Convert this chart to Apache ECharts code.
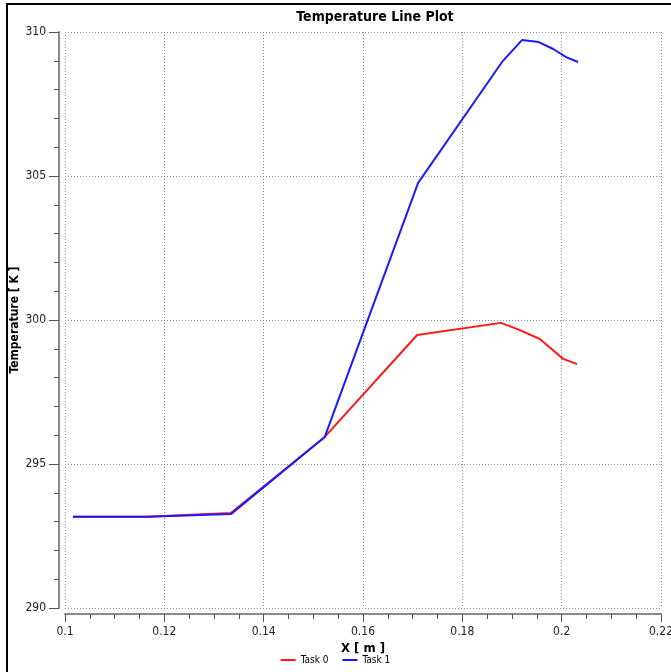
<!DOCTYPE html>
<html>
<head>
<meta charset="utf-8">
<script src="https://cdn.jsdelivr.net/npm/echarts@6/dist/echarts.min.js"></script>
<style>html,body{margin:0;padding:0;background:#fff}#c{width:671px;height:672px}</style>
</head>
<body>
<div id="c"></div>
<script>
const xTask0 = [0.1016, 0.1165, 0.1334, 0.1523, 0.1709, 0.1878, 0.1916, 0.1956, 0.2003, 0.2031];
const tTask0 = [293.17, 293.17, 293.30, 295.94, 299.48, 299.90, 299.65, 299.34, 298.65, 298.47];
const xTask1 = [0.1016, 0.1165, 0.1334, 0.1523, 0.1711, 0.1880, 0.1920, 0.1954, 0.1983, 0.2009, 0.2033];
const tTask1 = [293.17, 293.17, 293.26, 295.94, 304.76, 308.96, 309.72, 309.65, 309.41, 309.13, 308.96];
const seriesNames = ['Task 0', 'Task 1'];
const seriesColors = ['#ff1a1a', '#1a1aff'];

const font = 'DejaVu Sans Condensed, Liberation Sans, sans-serif';
const chart = echarts.init(document.getElementById('c'), null, {renderer: 'canvas'});
const pair = (xs, ys) => xs.map((x, i) => [x, ys[i]]);
chart.setOption({
  animation: false,
  backgroundColor: '#fff',
  title: {
    text: 'Temperature Line Plot', left: 370, top: 5, textAlign: 'center',
    textStyle: {fontFamily: font, fontSize: 14, fontWeight: 'bold', color: '#000'}
  },
  legend: {
    bottom: 2, left: 'center',
    data: seriesNames,
    icon: 'rect', itemWidth: 15, itemHeight: 2, itemGap: 14,
    textStyle: {fontFamily: font, fontSize: 10, color: '#000'}
  },
  graphic: [
    {type: 'line', shape: {x1: 7, y1: 3, x2: 7, y2: 672}, style: {stroke: '#000', lineWidth: 2}},
    {type: 'line', shape: {x1: 6, y1: 4, x2: 671, y2: 4}, style: {stroke: '#000', lineWidth: 2}}
  ],
  grid: {left: 65, right: 10, top: 32, bottom: 64, containLabel: false, outerBoundsMode: 'none'},
  xAxis: {
    type: 'value', min: 0.1, max: 0.22, interval: 0.02, offset: 6,
    name: 'X [ m ]', nameLocation: 'middle', nameGap: 28, nameMoveOverlap: false,
    nameTextStyle: {fontFamily: font, fontSize: 13, fontWeight: 'bold', color: '#000'},
    axisLine: {show: true, lineStyle: {color: '#8a8a8a', width: 2}},
    axisTick: {show: true, inside: false, length: 8, lineStyle: {color: '#555', width: 1}},
    minorTick: {show: true, splitNumber: 4, length: 5, lineStyle: {color: '#555'}},
    axisLabel: {fontFamily: font, fontSize: 12, color: '#222', margin: 12,
      formatter: v => String(+v.toFixed(3))},
    splitLine: {show: true, lineStyle: {color: '#8c8c8c', type: [1, 2], width: 1}}
  },
  yAxis: {
    type: 'value', min: 290, max: 310, interval: 5, offset: 6,
    name: 'Temperature [ K ]', nameLocation: 'middle', nameGap: 38, nameRotate: 90, nameMoveOverlap: false,
    nameTextStyle: {fontFamily: font, fontSize: 12, fontWeight: 'bold', color: '#000'},
    axisLine: {show: true, lineStyle: {color: '#8a8a8a', width: 2}},
    axisTick: {show: true, inside: false, length: 10, lineStyle: {color: '#555', width: 1}},
    minorTick: {show: true, splitNumber: 5, length: 5, lineStyle: {color: '#555'}},
    axisLabel: {fontFamily: font, fontSize: 12, color: '#222', margin: 13},
    splitLine: {show: true, lineStyle: {color: '#8c8c8c', type: [1, 2], width: 1}}
  },
  series: [
    {name: seriesNames[0], type: 'line', data: pair(xTask0, tTask0), showSymbol: false,
      lineStyle: {color: seriesColors[0], width: 2}, itemStyle: {color: seriesColors[0]}, z: 2},
    {name: seriesNames[1], type: 'line', data: pair(xTask1, tTask1), showSymbol: false,
      lineStyle: {color: seriesColors[1], width: 2}, itemStyle: {color: seriesColors[1]}, z: 3}
  ]
});
</script>
</body>
</html>
